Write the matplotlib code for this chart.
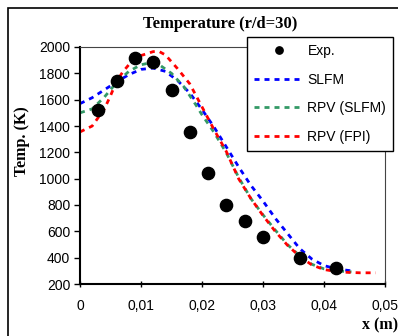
import matplotlib
matplotlib.use('Agg')
import matplotlib.pyplot as plt
from matplotlib.patches import Rectangle

# experimental points
x_exp = [0.003, 0.006, 0.009, 0.012, 0.015, 0.018, 0.021, 0.024, 0.027, 0.030, 0.036, 0.042]
t_exp = [1520, 1745, 1915, 1885, 1670, 1355, 1040, 800, 675, 555, 395, 325]

# SLFM
x_slfm = [0, 0.002, 0.004, 0.006, 0.008, 0.010, 0.012, 0.014, 0.016, 0.018, 0.020, 0.022,
          0.024, 0.026, 0.028, 0.030, 0.032, 0.034, 0.036, 0.038, 0.040, 0.042, 0.0445]
t_slfm = [1570, 1615, 1675, 1735, 1790, 1830, 1840, 1815, 1745, 1650, 1525, 1390,
          1240, 1090, 950, 830, 700, 585, 470, 390, 340, 315, 300]

# RPV (SLFM)
x_rpv_slfm = [0, 0.002, 0.004, 0.006, 0.008, 0.010, 0.0115, 0.013, 0.015, 0.017, 0.019, 0.020,
              0.022, 0.024, 0.026, 0.028, 0.030, 0.032, 0.034, 0.036, 0.038, 0.040, 0.042, 0.0445]
t_rpv_slfm = [1500, 1530, 1620, 1730, 1815, 1865, 1880, 1865, 1800, 1700, 1560, 1485,
              1350, 1195, 1010, 850, 725, 610, 500, 415, 350, 315, 300, 292]

# RPV (FPI)
x_rpv_fpi = [0, 0.002, 0.004, 0.005, 0.006, 0.007, 0.008, 0.010, 0.012, 0.013, 0.014, 0.016,
             0.018, 0.020, 0.022, 0.024, 0.026, 0.028, 0.030, 0.032, 0.034, 0.036, 0.038,
             0.040, 0.042, 0.044, 0.046, 0.0485]
t_rpv_fpi = [1355, 1400, 1530, 1630, 1740, 1810, 1865, 1935, 1965, 1965, 1940, 1835,
             1720, 1545, 1370, 1205, 1000, 850, 720, 600, 495, 410, 345,
             310, 295, 288, 285, 285]

xticks = [0, 0.01, 0.02, 0.03, 0.04, 0.05]
xtick_labels = ['0', '0,01', '0,02', '0,03', '0,04', '0,05']
yticks = [200, 400, 600, 800, 1000, 1200, 1400, 1600, 1800, 2000]

plt.rcParams['font.family'] = 'Liberation Sans'

fig = plt.figure(figsize=(3.98, 3.36), dpi=100)
ax = fig.add_axes([80 / 398, 1 - 284 / 336, 305 / 398, 237 / 336])

l1, = ax.plot(x_slfm, t_slfm, color='#0000ff', lw=2, dashes=(1.8, 1.8), label='SLFM')
l2, = ax.plot(x_rpv_slfm, t_rpv_slfm, color='#339966', lw=2, dashes=(1.8, 1.8), label='RPV (SLFM)')
l3, = ax.plot(x_rpv_fpi, t_rpv_fpi, color='#ff0000', lw=2, dashes=(1.8, 1.8), label='RPV (FPI)')
p0, = ax.plot(x_exp, t_exp, 'o', color='black', ms=8.8, ls='none', label='Exp.', zorder=5)

ax.set_xlim(0, 0.05)
ax.set_ylim(200, 2000)
ax.set_xticks(xticks)
ax.set_xticklabels(xtick_labels)
ax.set_yticks(yticks)
ax.tick_params(axis='y', direction='out', length=4, width=1, labelsize=10, pad=3)
ax.tick_params(axis='x', direction='inout', length=5, width=1, labelsize=10, pad=8)
for s in ['left', 'bottom']:
    ax.spines[s].set_linewidth(1.5)
for s in ['top', 'right']:
    ax.spines[s].set_linewidth(0.8)
    ax.spines[s].set_color('#444444')

leg = ax.legend([p0, l1, l2, l3], ['Exp.', 'SLFM', 'RPV (SLFM)', 'RPV (FPI)'],
                loc='upper left', bbox_to_anchor=(247 / 398, 1 - 37 / 336),
                bbox_transform=fig.transFigure, borderaxespad=0, fontsize=10,
                fancybox=False, edgecolor='black', framealpha=1, markerscale=0.6,
                handlelength=3.6, handletextpad=0.25, labelspacing=1.05, borderpad=0.5)
leg.get_frame().set_linewidth(1.0)
leg.set_zorder(10)

fig.text(220 / 398, 1 - 24 / 336, 'Temperature (r/d=30)', ha='center', va='center',
         fontsize=12, fontweight='bold', family='Liberation Serif')
fig.text(22 / 398, 1 - 141 / 336, 'Temp. (K)', ha='center', va='center', rotation=90,
         fontsize=11.5, fontweight='bold', family='Liberation Serif')
fig.text(380 / 398, 1 - 325 / 336, 'x (m)', ha='center', va='center',
         fontsize=11.5, fontweight='bold', family='Liberation Serif')

# outer chart border (runs off the right and bottom edges)
fig.patches.append(Rectangle((8 / 398, -0.1), 1.2, 1.1 - 8 / 336, transform=fig.transFigure,
                             fill=False, edgecolor='black', lw=1.2))

fig.savefig('out.png', dpi=100)
